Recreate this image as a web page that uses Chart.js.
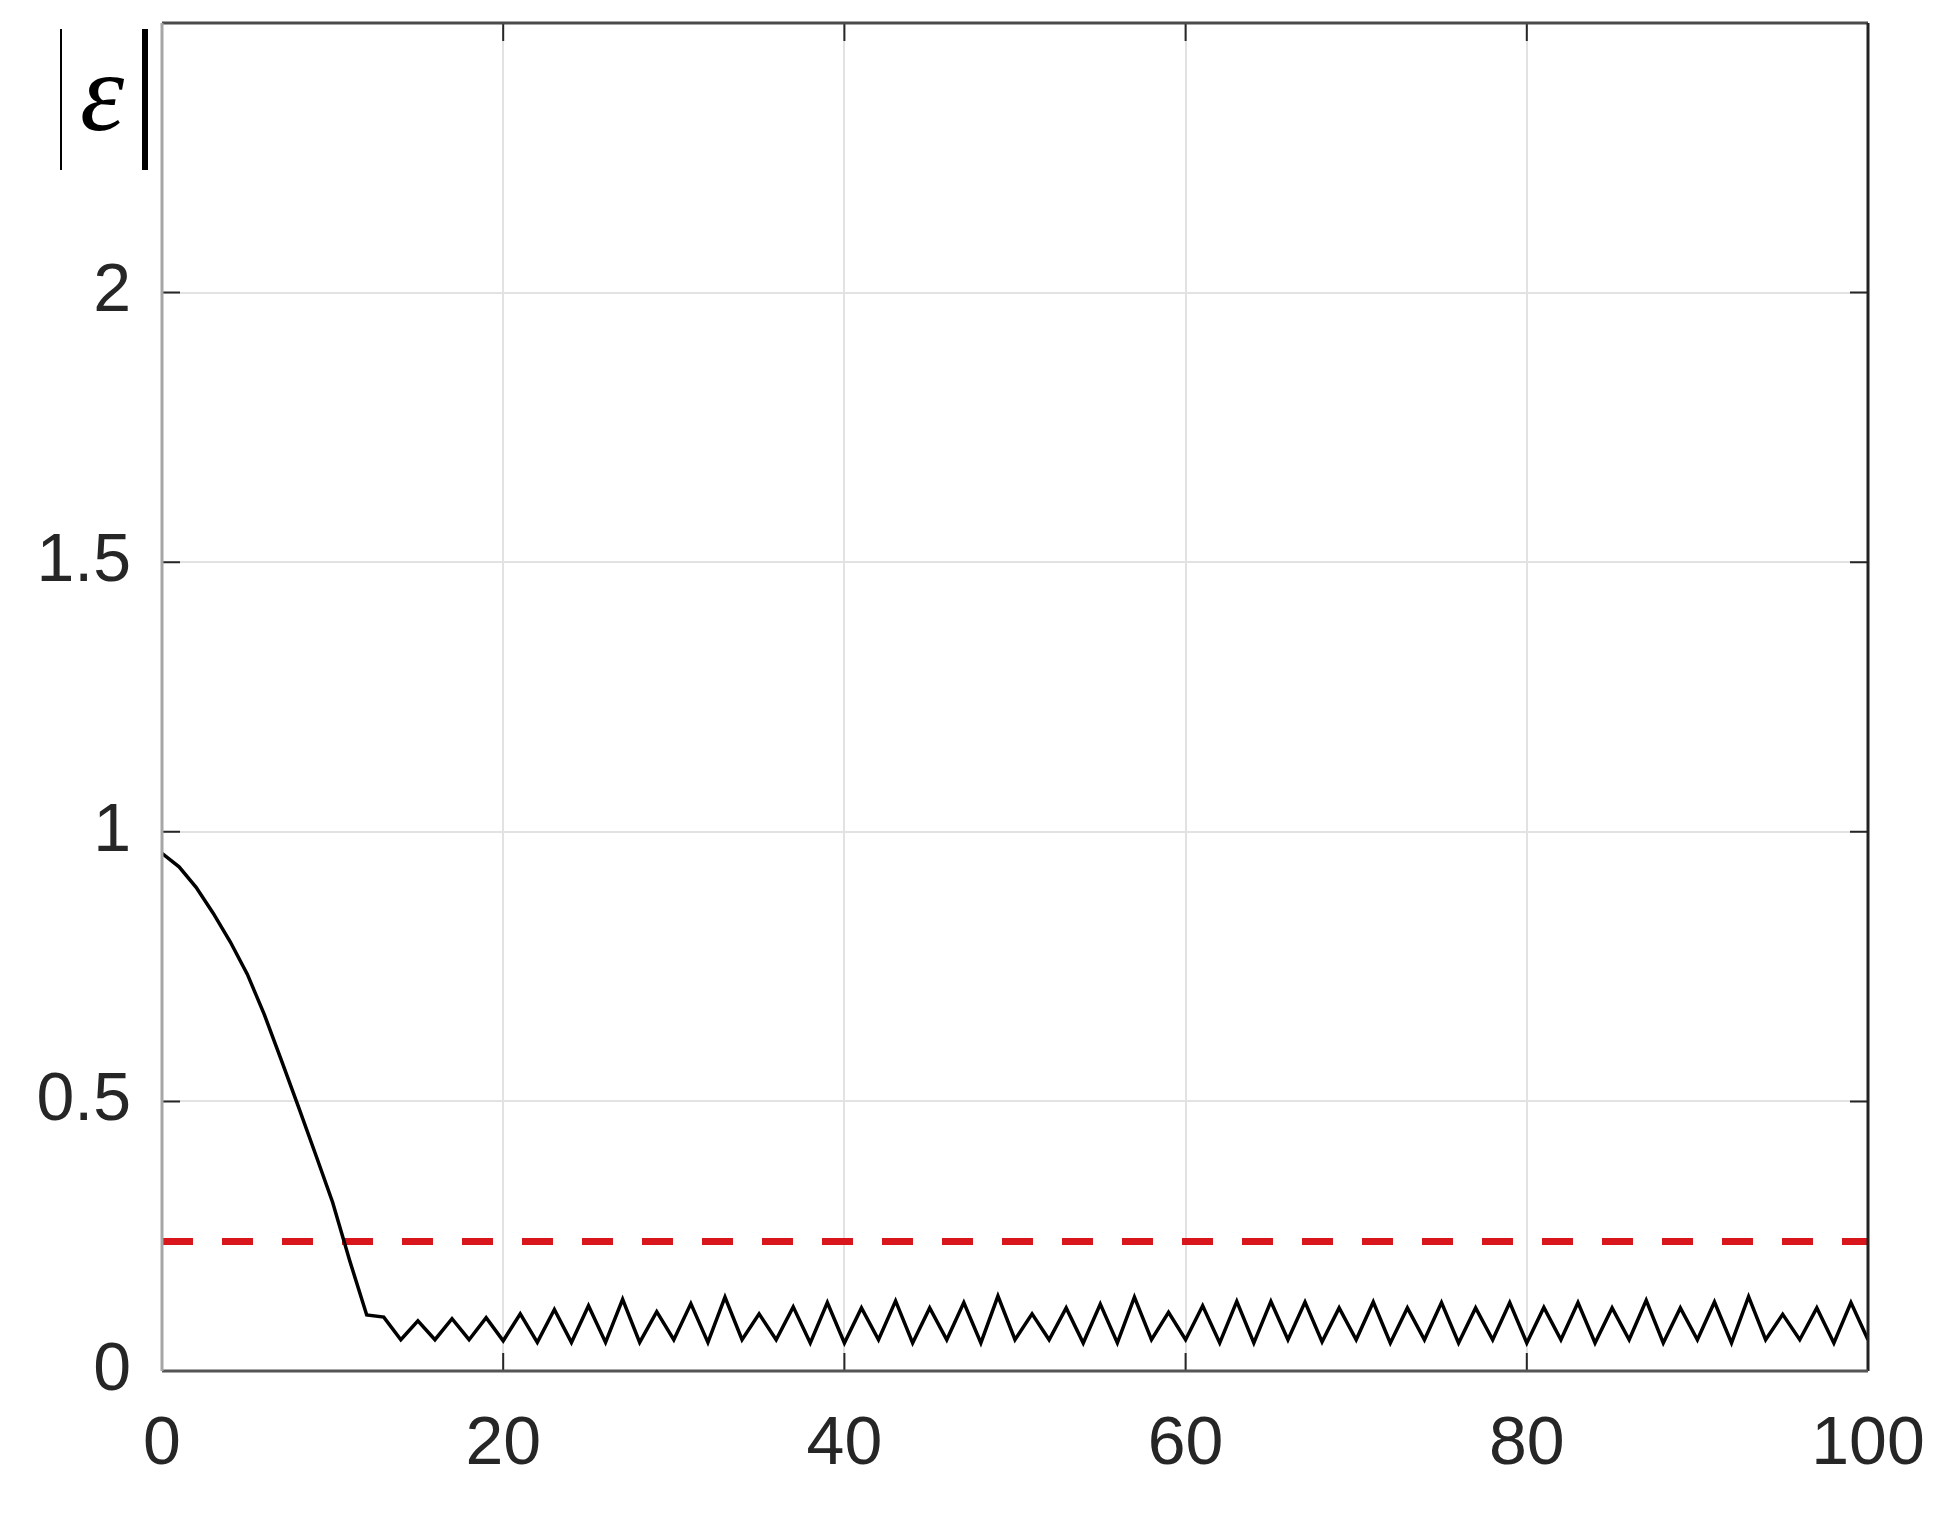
<!DOCTYPE html>
<html>
<head>
<meta charset="utf-8">
<script src="https://cdn.jsdelivr.net/npm/chart.js@4.4.0/dist/chart.umd.min.js"></script>
<style>
  html, body { margin: 0; padding: 0; background: #fff; }
  #wrap { position: relative; width: 1955px; height: 1513px; }
  #ylabel {
    position: absolute; left: 60px; top: 29px; width: 80px; height: 141px;
    border-left: 2px solid #000; border-right: 6px solid #000;
    font-family: "Liberation Serif", "DejaVu Serif", serif; font-style: italic;
    font-size: 112px; line-height: 141px; text-align: center; color: #000;
  }
  #ylabel span { position: relative; top: -7px; }
</style>
</head>
<body>
<div id="wrap">
  <canvas id="chart" width="1955" height="1513"></canvas>
  <div id="ylabel"><span>ε</span></div>
</div>
<script>
'use strict';

/* DATA */
const steps = [
  0, 1, 2, 3, 4, 5, 6, 7, 8, 9, 10, 11, 12, 13, 14, 15, 16, 17, 18, 19,
  20, 21, 22, 23, 24, 25, 26, 27, 28, 29, 30, 31, 32, 33, 34, 35, 36, 37, 38, 39,
  40, 41, 42, 43, 44, 45, 46, 47, 48, 49, 50, 51, 52, 53, 54, 55, 56, 57, 58, 59,
  60, 61, 62, 63, 64, 65, 66, 67, 68, 69, 70, 71, 72, 73, 74, 75, 76, 77, 78, 79,
  80, 81, 82, 83, 84, 85, 86, 87, 88, 89, 90, 91, 92, 93, 94, 95, 96, 97, 98, 99,
  100
];
const errorValues = [
  0.960, 0.935, 0.897, 0.849, 0.796, 0.736, 0.661, 0.576, 0.490, 0.402,
  0.313, 0.205, 0.104, 0.100, 0.058, 0.093, 0.058, 0.097, 0.058, 0.099,
  0.056, 0.106, 0.053, 0.114, 0.053, 0.121, 0.053, 0.133, 0.053, 0.110,
  0.058, 0.125, 0.053, 0.137, 0.058, 0.106, 0.058, 0.119, 0.052, 0.127,
  0.052, 0.117, 0.058, 0.130, 0.052, 0.117, 0.058, 0.127, 0.052, 0.139,
  0.058, 0.106, 0.058, 0.117, 0.052, 0.124, 0.052, 0.137, 0.058, 0.109,
  0.058, 0.121, 0.052, 0.129, 0.052, 0.129, 0.058, 0.128, 0.054, 0.117,
  0.058, 0.128, 0.052, 0.117, 0.058, 0.127, 0.052, 0.117, 0.058, 0.127,
  0.052, 0.118, 0.058, 0.127, 0.052, 0.117, 0.058, 0.131, 0.052, 0.117,
  0.058, 0.128, 0.052, 0.138, 0.058, 0.105, 0.058, 0.117, 0.052, 0.127,
  0.058
];
const thresholdX = [0, 100];
const thresholdY = [0.24, 0.24];
const xTickLabels = [0, 20, 40, 60, 80, 100];
const yTickLabels = [0, 0.5, 1, 1.5, 2];

/* MATLAB-STYLE BOX WITH INWARD TICKS */
const boxPlugin = {
  id: 'matlabBox',
  afterDatasetsDraw(chart) {
    const { ctx, chartArea: a, scales: { x, y } } = chart;
    const len = 18;
    ctx.save();
    ctx.lineWidth = 2;
    ctx.strokeStyle = '#262626';
    ctx.beginPath();
    x.ticks.forEach(t => {
      const px = x.getPixelForValue(t.value);
      ctx.moveTo(px, a.bottom); ctx.lineTo(px, a.bottom - len);
      ctx.moveTo(px, a.top); ctx.lineTo(px, a.top + len);
    });
    y.ticks.forEach(t => {
      const py = y.getPixelForValue(t.value);
      ctx.moveTo(a.left, py); ctx.lineTo(a.left + len, py);
      ctx.moveTo(a.right, py); ctx.lineTo(a.right - len, py);
    });
    ctx.stroke();

    function edge(x1, y1, x2, y2, color, w) {
      ctx.beginPath();
      ctx.strokeStyle = color;
      ctx.lineWidth = w;
      ctx.moveTo(x1, y1);
      ctx.lineTo(x2, y2);
      ctx.stroke();
    }
    edge(a.left, a.top, a.right, a.top, '#4a4a4a', 3);
    edge(a.right, a.top, a.right, a.bottom, '#222', 3);
    edge(a.left, a.bottom, a.right, a.bottom, '#555', 3);
    edge(a.left, a.top, a.left, a.bottom, '#a6a6a6', 3);
    ctx.restore();
  }
};

const tickFont = { family: '"Liberation Sans", Arial, sans-serif', size: 68 };

new Chart(document.getElementById('chart').getContext('2d'), {
  type: 'line',
  data: {
    datasets: [
      {
        data: steps.map((s, i) => ({ x: s, y: errorValues[i] })),
        borderColor: '#000',
        borderWidth: 3.5,
        pointRadius: 0,
        tension: 0,
        fill: false
      },
      {
        data: thresholdX.map((s, i) => ({ x: s, y: thresholdY[i] })),
        borderColor: '#d8161b',
        borderWidth: 7,
        borderDash: [31, 29],
        borderCapStyle: 'butt',
        pointRadius: 0,
        fill: false
      }
    ]
  },
  options: {
    responsive: false,
    animation: false,
    layout: { padding: { top: 23, right: 87, left: 0, bottom: 0 } },
    plugins: { legend: { display: false }, tooltip: { enabled: false } },
    scales: {
      x: {
        type: 'linear',
        min: 0,
        max: 100,
        afterFit: scale => {
          scale.height = 142;
          scale.paddingLeft = 0;
          scale.paddingRight = 0;
        },
        border: { display: false },
        grid: { color: '#e2e2e2', lineWidth: 2, drawTicks: false },
        ticks: {
          stepSize: 20,
          autoSkip: false,
          maxRotation: 0,
          padding: 33,
          color: '#262626',
          font: tickFont,
          callback: v => (xTickLabels.includes(v) ? String(v) : '')
        }
      },
      y: {
        type: 'linear',
        min: 0,
        max: 2.5,
        afterFit: scale => {
          scale.width = 162;
          scale.paddingTop = 0;
          scale.paddingBottom = 0;
        },
        border: { display: false },
        grid: { color: '#e2e2e2', lineWidth: 2, drawTicks: false },
        ticks: {
          stepSize: 0.5,
          autoSkip: false,
          padding: 31,
          color: '#262626',
          font: tickFont,
          callback: v => (yTickLabels.includes(v) ? String(v) : '')
        }
      }
    }
  },
  plugins: [boxPlugin]
});
</script>
</body>
</html>
